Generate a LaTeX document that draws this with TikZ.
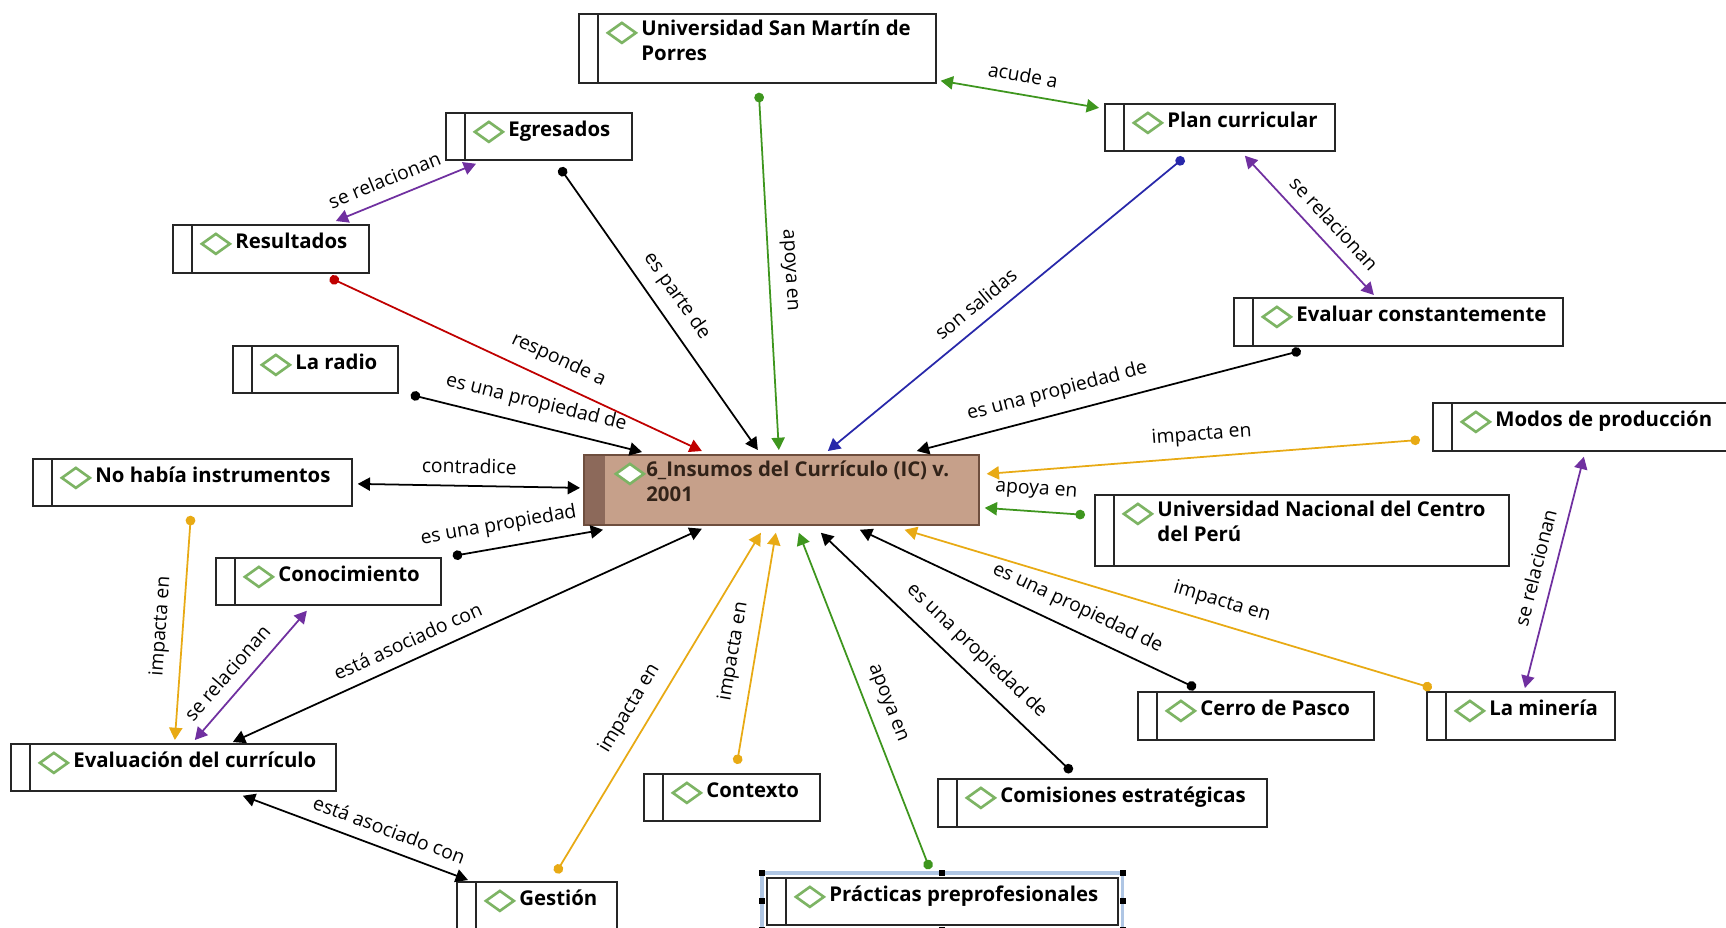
\documentclass[tikz,border=0pt]{standalone}
\usepackage{fontspec}
\setmainfont{Open Sans}
\usetikzlibrary{arrows.meta}

\definecolor{cgreen}{RGB}{62,150,30}
\definecolor{cpurple}{RGB}{112,48,160}
\definecolor{cred}{RGB}{192,0,0}
\definecolor{cblue}{RGB}{40,40,170}
\definecolor{corange}{RGB}{232,170,20}
\definecolor{icongreen}{RGB}{125,180,100}
\definecolor{cfill}{RGB}{198,160,138}
\definecolor{cstrip}{RGB}{140,105,90}
\definecolor{cborder}{RGB}{110,78,62}
\definecolor{cdark}{RGB}{50,35,25}
\definecolor{selblue}{RGB}{175,198,228}

\begin{document}
\begin{tikzpicture}[x=0.02cm, y=-0.02cm,
	icon/.style = {draw=icongreen, line width=1.5pt, fill=white},
	concept/.style = {draw=black!85, line width=1pt, fill=white, anchor=north west, inner sep=0pt,
		path picture={
			\draw[line width=1pt] ([xshift=0.38cm]path picture bounding box.north west) -- ([xshift=0.38cm]path picture bounding box.south west);
			\draw[icon] ([shift={(0.58cm,-0.38cm)}]path picture bounding box.north west) -- ++(0.28cm,0.2cm) -- ++(0.28cm,-0.2cm) -- ++(-0.28cm,-0.2cm) -- cycle;
		}},
	core/.style = {draw=cborder, line width=1pt, fill=cfill, anchor=north west, inner sep=0pt,
		path picture={
			\fill[cstrip] (path picture bounding box.north west) rectangle ([xshift=0.42cm]path picture bounding box.south west);
			\draw[icon] ([shift={(0.64cm,-0.38cm)}]path picture bounding box.north west) -- ++(0.28cm,0.2cm) -- ++(0.28cm,-0.2cm) -- ++(-0.28cm,-0.2cm) -- cycle;
		}},
	title/.style = {font=\fontsize{11.6}{14}\selectfont\bfseries, anchor=north west, align=left, inner sep=0pt,
		xshift=1.26cm, yshift=-0.14cm, execute at begin node=\strut},
	link/.style = {line width=1pt, draw=#1, {Circle[length=5.5pt]}-{Triangle[length=7pt, width=7.5pt]}},
	both/.style = {line width=1pt, draw=#1, {Triangle[length=7pt, width=7.5pt]}-{Triangle[length=7pt, width=7.5pt]}},
	lbl/.style = {font=\fontsize{11}{13}\selectfont, sloped, above=4.5pt, inner sep=2pt}]
	\useasboundingbox (0,0) rectangle (1726,927);
	\clip (0,0) rectangle (1726,927);
	\fill[white] (0,0) rectangle (1726,927);

	% conceptos
	\node[core, minimum width=7.90cm, minimum height=1.40cm, label={[title, text=cdark]north west:6\_Insumos del Currículo (IC) v.\\2001}] (central) at (583,454) {};
	\node[concept, minimum width=7.14cm, minimum height=1.38cm, label={[title]north west:Universidad San Martín de\\Porres}] (usmp) at (578,13) {};
	\node[concept, minimum width=4.60cm, minimum height=0.94cm, label={[title]north west:Plan curricular}] (plan) at (1104,103) {};
	\node[concept, minimum width=3.72cm, minimum height=0.94cm, label={[title]north west:Egresados}] (egres) at (445,112) {};
	\node[concept, minimum width=3.92cm, minimum height=0.96cm, label={[title]north west:Resultados}] (resul) at (172,224) {};
	\node[concept, minimum width=6.58cm, minimum height=0.96cm, label={[title]north west:Evaluar constantemente}] (evalc) at (1233,297) {};
	\node[concept, minimum width=3.30cm, minimum height=0.94cm, label={[title]north west:La radio}] (radio) at (232,345) {};
	\node[concept, minimum width=7.00cm, minimum height=0.96cm, label={[title]north west:Modos de producción}] (modos) at (1432,402) {};
	\node[concept, minimum width=6.38cm, minimum height=0.94cm, label={[title]north west:No había instrumentos}] (noinst) at (32,458) {};
	\node[concept, minimum width=8.28cm, minimum height=1.42cm, label={[title]north west:Universidad Nacional del Centro\\del Perú}] (uncp) at (1094,494) {};
	\node[concept, minimum width=4.50cm, minimum height=0.94cm, label={[title]north west:Conocimiento}] (conoc) at (215,557) {};
	\node[concept, minimum width=4.72cm, minimum height=0.96cm, label={[title]north west:Cerro de Pasco}] (cerro) at (1137,691) {};
	\node[concept, minimum width=3.76cm, minimum height=0.96cm, label={[title]north west:La minería}] (mineria) at (1426,691) {};
	\node[concept, minimum width=6.50cm, minimum height=0.94cm, label={[title]north west:Evaluación del currículo}] (evalcur) at (10,743) {};
	\node[concept, minimum width=3.52cm, minimum height=0.94cm, label={[title]north west:Contexto}] (contexto) at (643,773) {};
	\node[concept, minimum width=6.58cm, minimum height=0.96cm, label={[title]north west:Comisiones estratégicas}] (comis) at (937,778) {};
	\node[concept, minimum width=3.20cm, minimum height=0.94cm, label={[title]north west:Gestión}] (gestion) at (456,881) {};
	\node[concept, minimum width=7.02cm, minimum height=0.94cm, label={[title]north west:Prácticas preprofesionales}] (practicas) at (766,877) {};

	% marco de seleccion
	\draw[selblue, line width=2pt] ([shift={(-4,-4)}]practicas.north west) rectangle ([shift={(4,4)}]practicas.south east);
	\foreach \a/\dx/\dy in {north west/-4/-4, north/0/-4, north east/4/-4, west/-4/0, east/4/0, south west/-4/4, south/0/4, south east/4/4}
		\fill ([shift={(\dx,\dy)}]practicas.\a) ++(-3,-3) rectangle ++(6,6);

	% relaciones
	\draw[link=cgreen] ([shift={(1.5,9)}]usmp.south) -- node[lbl]{apoya en} ([shift={(-2.5,-4)}]central.north);
	\draw[both=cgreen] ([shift={(4,-3)}]usmp.south east) -- node[lbl]{acude a} ([shift={(-5,-19.5)}]plan.west);
	\draw[link=black] ([shift={(21,7)}]egres.south) -- node[lbl]{es parte de} ([shift={(-23.5,-4)}]central.north);
	\draw[both=cpurple] ([shift={(65,-3)}]resul.north) -- node[lbl, pos=0.4]{se relacionan} ([shift={(31,3)}]egres.south west);
	\draw[link=cred] ([shift={(59,4)}]resul.south) -- node[lbl, pos=0.59]{responde a} ([shift={(-79.5,-3)}]central.north);
	\draw[link=cblue] ([shift={(-36,6)}]plan.south) -- node[lbl, pos=0.55]{son salidas} ([shift={(46.5,-3)}]central.north);
	\draw[both=cpurple] ([shift={(25,4)}]plan.south) -- node[lbl, pos=0.58]{se relacionan} ([shift={(-24.5,-2)}]evalc.north);
	\draw[link=black] ([shift={(-97.5,4)}]evalc.south) -- node[lbl, pos=0.62]{es una propiedad de} ([shift={(135.5,-3)}]central.north);
	\draw[link=black] ([shift={(12,1)}]radio.south east) -- node[lbl, pos=0.52]{es una propiedad de} ([shift={(59,-2)}]central.north west);
	\draw[link=corange] ([shift={(-12,13)}]modos.west) -- node[lbl]{impacta en} ([shift={(7,-16)}]central.east);
	\draw[both=black] ([shift={(5,1.5)}]noinst.east) -- node[lbl]{contradice} ([shift={(-3,-2)}]central.west);
	\draw[link=cgreen] ([shift={(-9,-15.5)}]uncp.west) -- node[lbl]{apoya en} ([shift={(5,18)}]central.east);
	\draw[link=black] ([shift={(11,-1)}]conoc.north east) -- node[lbl, pos=0.33]{es una propiedad} ([shift={(20,4)}]central.south west);
	\draw[link=corange] ([shift={(-1.5,9)}]noinst.south) -- node[lbl]{impacta en} ([shift={(1.5,-3)}]evalcur.north);
	\draw[both=cpurple] ([shift={(-21.5,5)}]conoc.south) -- node[lbl, pos=0.58]{se relacionan} ([shift={(21.5,-3)}]evalcur.north);
	\draw[both=black] ([shift={(59.5,-1)}]evalcur.north) -- node[lbl, pos=0.39]{está asociado con} ([shift={(-79.5,3)}]central.south);
	\draw[both=black] ([shift={(69.5,4)}]evalcur.south) -- node[lbl, pos=0.62]{está asociado con} ([shift={(12,-1)}]gestion.north west);
	\draw[link=corange] ([shift={(19,-8)}]gestion.north) -- node[lbl, pos=0.45]{impacta en} ([shift={(-20.5,7)}]central.south);
	\draw[link=corange] ([shift={(5,-9)}]contexto.north) -- node[lbl, pos=0.47]{impacta en} ([shift={(-5.5,7)}]central.south);
	\draw[link=cgreen] ([shift={(-12.5,-8)}]practicas.north) -- node[lbl, pos=0.47]{apoya en} ([shift={(17.5,7)}]central.south);
	\draw[link=black] ([shift={(-30.5,-6)}]comis.north) -- node[lbl, pos=0.44]{es una propiedad de} ([shift={(39.5,7)}]central.south);
	\draw[link=black] ([shift={(-60,-3)}]cerro.north) -- node[lbl, pos=0.38]{es una propiedad de} ([shift={(78.5,4)}]central.south);
	\draw[link=corange] ([shift={(-89,-3)}]mineria.north) -- node[lbl, pos=0.41]{impacta en} ([shift={(-75,4)}]central.south east);
	\draw[both=cpurple] ([shift={(-24,5)}]modos.south) -- node[lbl]{se relacionan} ([shift={(4,-3)}]mineria.north);
\end{tikzpicture}
\end{document}
